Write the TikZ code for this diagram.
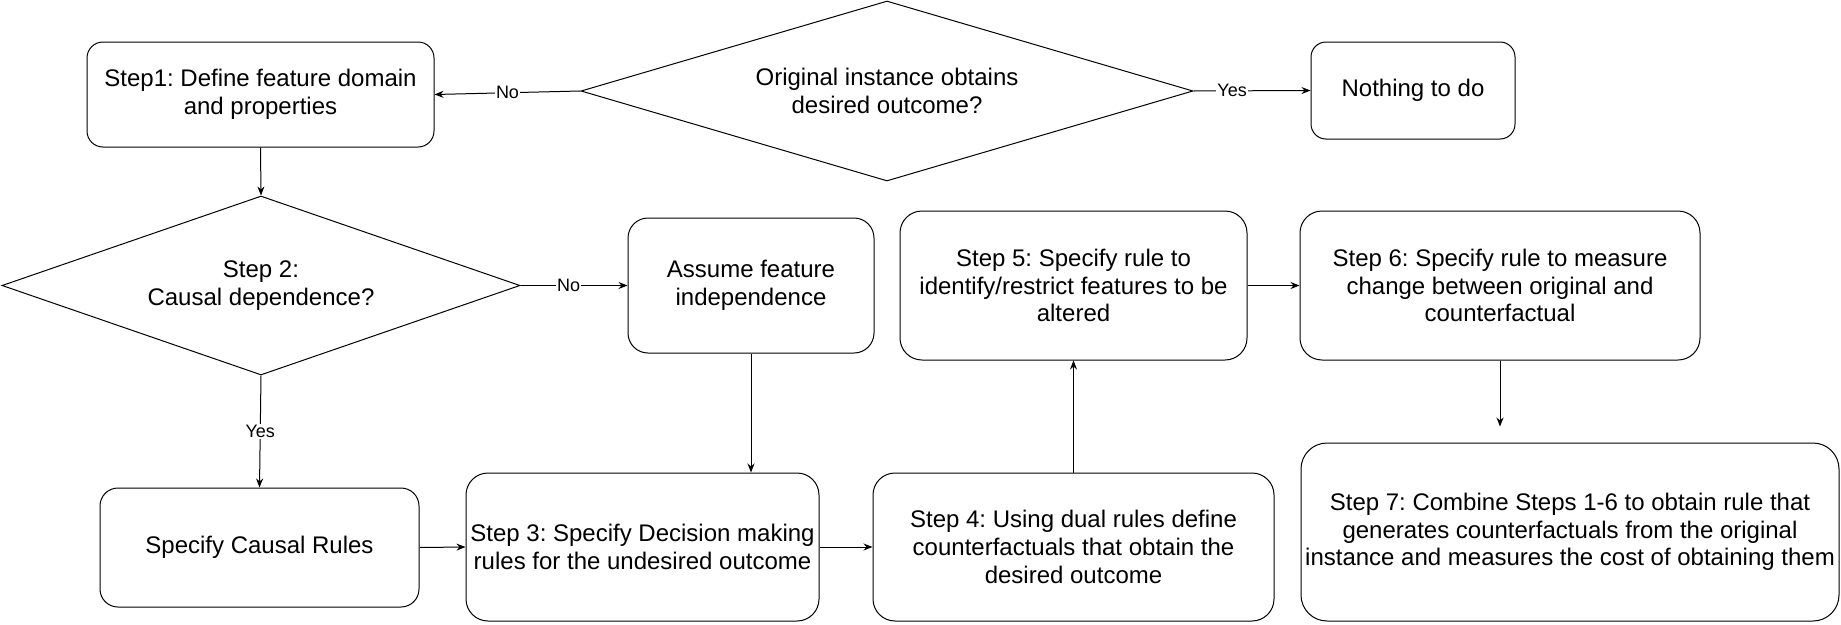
\documentclass[tikz,border=0pt]{standalone}
\usepackage{fontspec}
\setmainfont{Liberation Sans}
\usetikzlibrary{shapes.geometric,arrows.meta,calc}
\frenchspacing
\begin{document}
\begin{tikzpicture}[x=1pt,y=-1pt,
  box/.style={draw=black,line width=1pt,rectangle,inner sep=0pt,align=center,
    font=\fontsize{24}{27.6}\selectfont},
  dec/.style={draw=black,line width=1pt,diamond,inner sep=0pt,align=center,
    font=\fontsize{24}{27.6}\selectfont},
  conn/.style={draw=black,line width=1pt,-{Stealth[length=9pt,width=7pt]}},
  lab/.style={fill=white,inner sep=1pt,font=\fontsize{18}{20}\selectfont}]
\useasboundingbox (0,0) rectangle (1841,624);
\fill[white] (0,0) rectangle (1841,624);

\node[box,rounded corners=16pt,minimum width=347pt,minimum height=105pt] (s1) at (260.5,94.5)
  {Step1: Define feature domain\\and properties};
\node[dec,aspect=3.4,minimum width=612pt,minimum height=180pt] (d1) at (887,91)
  {Original instance obtains\\desired outcome?};
\node[box,rounded corners=15pt,minimum width=204pt,minimum height=97pt] (nothing) at (1413,90.5)
  {Nothing to do};
\node[dec,aspect=2.9,minimum width=518pt,minimum height=179pt] (d2) at (261,285.5)
  {Step 2:\\Causal dependence?};
\node[box,rounded corners=20pt,minimum width=246pt,minimum height=135pt] (assume) at (751,285.5)
  {Assume feature\\independence};
\node[box,rounded corners=22pt,minimum width=347pt,minimum height=149pt] (s5) at (1073.5,285.5)
  {Step 5: Specify rule to\\identify/restrict features to be\\altered};
\node[box,rounded corners=22pt,minimum width=400pt,minimum height=149pt] (s6) at (1500,285.5)
  {Step 6: Specify rule to measure\\change between original and\\counterfactual};
\node[box,rounded corners=18pt,minimum width=319pt,minimum height=119pt] (causal) at (259.5,547.5)
  {Specify Causal Rules};
\node[box,rounded corners=22pt,minimum width=353pt,minimum height=148pt] (s3) at (642.5,547)
  {Step 3: Specify Decision making\\rules for the undesired outcome};
\node[box,rounded corners=22pt,minimum width=401pt,minimum height=148pt] (s4) at (1073.5,547)
  {Step 4: Using dual rules define\\counterfactuals that obtain the\\desired outcome};
\node[box,rounded corners=26pt,minimum width=538pt,minimum height=178pt] (s7) at (1570,532)
  {Step 7: Combine Steps 1-6 to obtain rule that\\generates counterfactuals from the original\\instance and measures the cost of obtaining them};

\draw[conn] (d1.west) -- node[lab,pos=0.5]{No} (s1.east);
\draw[conn] (d1.east) -- node[lab,pos=0.33]{Yes} (nothing.west);
\draw[conn] (s1.south) -- (d2.north);
\draw[conn] (d2.east) -- node[lab,pos=0.45]{No} (assume.west);
\draw[conn] (d2.south) -- node[lab,pos=0.5]{Yes} (causal.north);
\draw[conn] (assume.south) -- (assume.south |- s3.north);
\draw[conn] (causal.east) -- (s3.west);
\draw[conn] (s3.east) -- (s4.west);
\draw[conn] (s4.north) -- (s5.south);
\draw[conn] (s5.east) -- (s6.west);
\draw[conn,shorten >=16pt] (s6.south) -- (s6.south |- s7.north);
\end{tikzpicture}
\end{document}
